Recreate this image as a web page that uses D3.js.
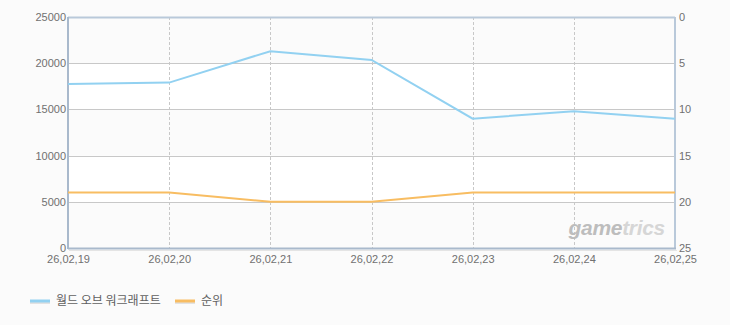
<!DOCTYPE html>
<html>
<head>
<meta charset="utf-8">
<script src="https://cdn.jsdelivr.net/npm/d3@7"></script>
<style>
  body { margin: 0; background: #fbfbfb; }
  text { font-family: "Liberation Sans", "DejaVu Sans", sans-serif; }
</style>
</head>
<body>
<div id="chart"></div>
<script>
// data
var dates = ["26.02.19", "26.02.20", "26.02.21", "26.02.22", "26.02.23", "26.02.24", "26.02.25"];
var players = [17750, 17900, 21300, 20350, 14000, 14800, 14000];
var ranks = [19, 19, 20, 20, 19, 19, 19];
var leftTicks = [0, 5000, 10000, 15000, 20000, 25000];
var rightTicks = [0, 5, 10, 15, 20, 25];
var seriesNames = ["월드 오브 워크래프트", "순위"];
var seriesColors = ["#92d1f1", "#f8bd62"];

var W = 730, H = 325;
var margin = {top: 17, right: 55, bottom: 77, left: 68};
var width = W - margin.left - margin.right,
    height = H - margin.top - margin.bottom;

var svg = d3.select("#chart").append("svg")
    .attr("width", W).attr("height", H)
    .style("background", "#fbfbfb");

var g = svg.append("g").attr("transform", "translate(" + margin.left + "," + margin.top + ")");

var x = d3.scalePoint().domain(dates).range([0, width]);
var yL = d3.scaleLinear().domain([0, 25000]).range([height, 0]);
var yR = d3.scaleLinear().domain([0, 25]).range([0, height]);

// alternating bands (white between 5000-10000 and 15000-20000)
g.append("rect").attr("width", width).attr("height", height).style("fill", "#fbfbfb");
[[5000, 10000], [15000, 20000]].forEach(function(b) {
  g.append("rect")
    .attr("x", 0).attr("y", yL(b[1]))
    .attr("width", width).attr("height", yL(b[0]) - yL(b[1]))
    .style("fill", "#ffffff");
});

// horizontal grid
g.append("g").selectAll("line")
  .data(leftTicks.slice(1, -1))
  .enter().append("line")
    .attr("x1", 0).attr("x2", width)
    .attr("y1", function(d) { return Math.round(yL(d)) + 0.5; })
    .attr("y2", function(d) { return Math.round(yL(d)) + 0.5; })
    .style("stroke", "#c8c8c8").style("stroke-width", 1);

// vertical dashed grid
g.append("g").selectAll("line")
  .data(dates.slice(1, -1))
  .enter().append("line")
    .attr("x1", function(d) { return Math.round(x(d)) + 0.5; })
    .attr("x2", function(d) { return Math.round(x(d)) + 0.5; })
    .attr("y1", 0).attr("y2", height)
    .style("stroke", "#c8c8c8").style("stroke-dasharray", "3,2");

// watermark
var wm = g.append("text")
  .attr("x", width - 10).attr("y", height - 13)
  .attr("text-anchor", "end")
  .style("font-size", "21px").style("font-style", "italic").style("font-weight", "bold")
  .style("letter-spacing", "-0.3px");
wm.append("tspan").text("game").style("fill", "#bdbdbd");
wm.append("tspan").text("trics").style("fill", "#d6d6d6");

// frame
g.append("line").attr("x1", 0).attr("x2", width).attr("y1", 0.5).attr("y2", 0.5)
  .style("stroke", "#b9c9da").style("stroke-width", 2);
g.append("line").attr("x1", width).attr("x2", width).attr("y1", 0).attr("y2", height)
  .style("stroke", "#b9c9da").style("stroke-width", 2);
g.append("line").attr("x1", 0).attr("x2", 0).attr("y1", 0).attr("y2", height + 1)
  .style("stroke", "#a9b9cc").style("stroke-width", 2);
g.append("line").attr("x1", 0).attr("x2", width + 1).attr("y1", height + 0.5).attr("y2", height + 0.5)
  .style("stroke", "#a9b9cc").style("stroke-width", 2);
g.append("line").attr("x1", 1).attr("x2", width + 2).attr("y1", height + 2.5).attr("y2", height + 2.5)
  .style("stroke", "#e4e4e4").style("stroke-width", 1);

// axes (labels only)
var axisLeft = d3.axisLeft(yL).tickValues(leftTicks).tickSize(0).tickPadding(2)
  .tickFormat(d3.format("d"));
var gl = g.append("g").call(axisLeft);
gl.select(".domain").remove();
gl.selectAll("text").style("font-size", "11px").style("fill", "#707070")
  .style("font-family", "'Liberation Sans', sans-serif");

var axisRight = d3.axisRight(yR).tickValues(rightTicks).tickSize(0).tickPadding(4);
var gr = g.append("g").attr("transform", "translate(" + width + ",0)").call(axisRight);
gr.select(".domain").remove();
gr.selectAll("text").style("font-size", "11px").style("fill", "#707070")
  .style("font-family", "'Liberation Sans', sans-serif");

var axisBottom = d3.axisBottom(x).tickSize(0).tickPadding(7)
  .tickFormat(function(d) { return d.replace(/\./g, ","); });
var gb = g.append("g").attr("transform", "translate(0," + height + ")").call(axisBottom);
gb.select(".domain").remove();
gb.selectAll("text").style("font-size", "11px").style("fill", "#707070")
  .style("font-family", "'Liberation Sans', sans-serif");

// lines
var linePlayers = d3.line()
  .x(function(d, i) { return x(dates[i]); })
  .y(function(d) { return yL(d); });
var lineRanks = d3.line()
  .x(function(d, i) { return x(dates[i]); })
  .y(function(d) { return yR(d); });

g.append("path").datum(players).attr("d", linePlayers)
  .style("fill", "none").style("stroke", seriesColors[0]).style("stroke-width", 2);
g.append("path").datum(ranks).attr("d", lineRanks)
  .style("fill", "none").style("stroke", seriesColors[1]).style("stroke-width", 2);

// legend
var legendX = [30, 175];
seriesNames.forEach(function(name, i) {
  var lg = svg.append("g").attr("transform", "translate(" + legendX[i] + ",301)");
  lg.append("line").attr("x1", 0).attr("x2", 20).attr("y1", 1.5).attr("y2", 1.5)
    .style("stroke", "#e2e2e2").style("stroke-width", 3);
  lg.append("line").attr("x1", 0).attr("x2", 20).attr("y1", 0).attr("y2", 0)
    .style("stroke", seriesColors[i]).style("stroke-width", 3);
  lg.append("text").attr("x", 26).attr("y", 4)
    .text(name)
    .style("font-size", "12px").style("fill", "#606060")
    .style("font-family", "'Noto Sans CJK KR', sans-serif");
});
</script>
</body>
</html>
